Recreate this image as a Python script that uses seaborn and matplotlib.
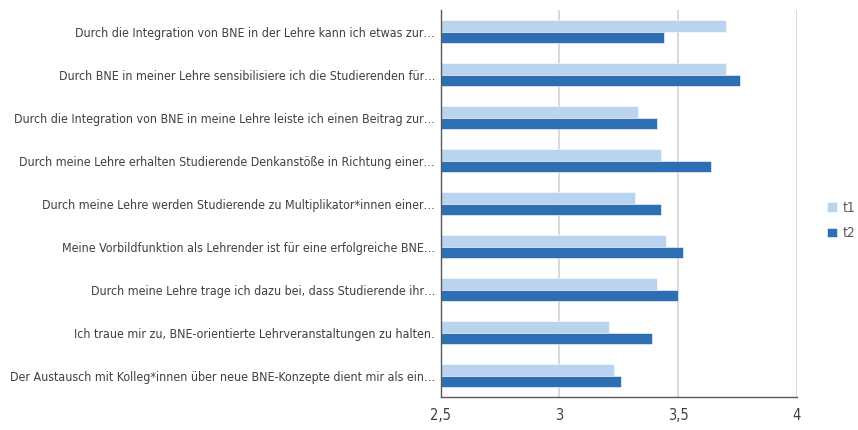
import matplotlib
matplotlib.use("Agg")
import matplotlib.pyplot as plt
import seaborn as sns
import pandas as pd
from matplotlib.ticker import FuncFormatter

categories = [
    "Durch die Integration von BNE in der Lehre kann ich etwas zur…",
    "Durch BNE in meiner Lehre sensibilisiere ich die Studierenden für…",
    "Durch die Integration von BNE in meine Lehre leiste ich einen Beitrag zur…",
    "Durch meine Lehre erhalten Studierende Denkanstöße in Richtung einer…",
    "Durch meine Lehre werden Studierende zu Multiplikator*innen einer…",
    "Meine Vorbildfunktion als Lehrender ist für eine erfolgreiche BNE…",
    "Durch meine Lehre trage ich dazu bei, dass Studierende ihr…",
    "Ich traue mir zu, BNE-orientierte Lehrveranstaltungen zu halten.",
    "Der Austausch mit Kolleg*innen über neue BNE-Konzepte dient mir als ein…",
]
t1 = [3.70, 3.70, 3.33, 3.43, 3.32, 3.45, 3.41, 3.21, 3.23]
t2 = [3.44, 3.76, 3.41, 3.64, 3.43, 3.52, 3.50, 3.39, 3.26]
series = ["t1", "t2"]
xticks = [2.5, 3, 3.5, 4]

sns.set_theme(style="white")
plt.rcParams["font.family"] = ["DejaVu Sans"]
plt.rcParams["font.stretch"] = "condensed"

df = pd.DataFrame({
    "Kategorie": categories * 2,
    "Wert": t1 + t2,
    "Serie": ["t1"] * len(categories) + ["t2"] * len(categories),
})

fig = plt.figure(figsize=(8.58, 4.30), dpi=100)
ax = fig.add_axes([0.5136, 0.0767, 0.415, 0.9])

sns.barplot(data=df, y="Kategorie", x="Wert", hue="Serie", orient="h",
            palette={"t1": "#BAD3EE", "t2": "#2E6FB4"}, width=0.54, saturation=1,
            edgecolor="white", linewidth=0.4, ax=ax, legend=True)

ax.set_xlim(2.5, 4)
ax.set_ylim(len(categories) - 0.5, -0.5)
ax.set_xticks(xticks)
ax.xaxis.set_major_formatter(FuncFormatter(lambda v, p: (f"{v:g}").replace(".", ",")))
ax.set_xlabel("")
ax.set_ylabel("")
ax.grid(axis="x", color="#D9D9D9", linewidth=1.4)
ax.set_axisbelow(True)
for s in ["top", "right"]:
    ax.spines[s].set_visible(False)
for s in ["left", "bottom"]:
    ax.spines[s].set_color("#595959")
    ax.spines[s].set_linewidth(1.0)
ax.tick_params(axis="both", length=0, labelsize=10.5, colors="#404040", pad=4)
ax.tick_params(axis="x", pad=8, labelsize=10.5)

# shrink label font until the longest label fits left of the axes
fig.canvas.draw()
r = fig.canvas.get_renderer()
size = 10.5
while size > 6:
    widths = [lab.get_window_extent(r).width for lab in ax.get_yticklabels()]
    if max(widths) <= 428:
        break
    size -= 0.1
    ax.tick_params(axis="y", labelsize=size)
    fig.canvas.draw()

handles, labels = ax.get_legend_handles_labels()
ax.get_legend().remove()
leg = fig.legend(handles, labels, loc="center left", bbox_to_anchor=(0.964, 0.487),
                 frameon=False, fontsize=10, handlelength=0.7, handleheight=0.7,
                 handletextpad=0.4, labelspacing=0.85, labelcolor="#595959",
                 borderaxespad=0, borderpad=0)

fig.savefig("out.png", dpi=100)
